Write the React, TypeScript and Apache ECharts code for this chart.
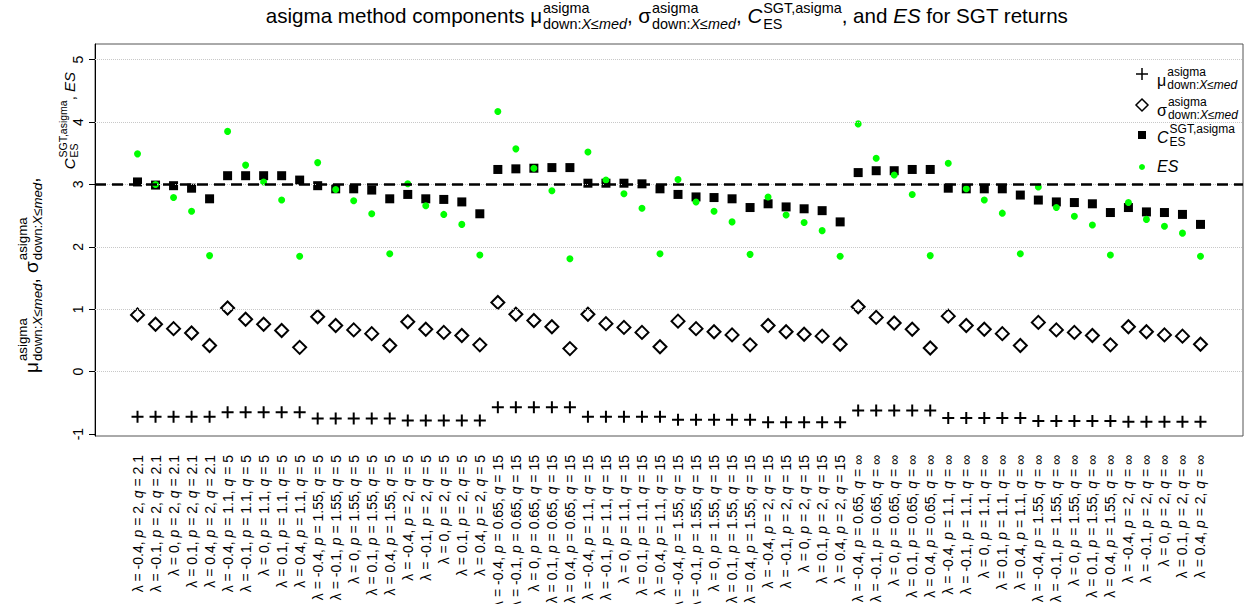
import React, { useEffect, useRef } from 'react';
import * as echarts from 'echarts';

// ---------------- data ----------------
const lambdas = ['-0.4', '-0.1', '0', '0.1', '0.4'];
const pValues = ['2', '1.1', '1.55', '2', '0.65', '1.1', '1.55', '2', '0.65', '1.1', '1.55', '2'];
const qValues = ['2.1', '5', '5', '5', '15', '15', '15', '15', '∞', '∞', '∞', '∞'];
const yTicks = [-1, 0, 1, 2, 3, 4, 5];
const gridValues = [0, 1, 2, 3, 4, 5];
const refLevel = 3;

const muDown = [
  -0.72, -0.72, -0.72, -0.72, -0.72,
  -0.65, -0.65, -0.65, -0.65, -0.65,
  -0.75, -0.75, -0.75, -0.75, -0.75,
  -0.78, -0.78, -0.78, -0.78, -0.78,
  -0.57, -0.57, -0.57, -0.57, -0.57,
  -0.72, -0.72, -0.72, -0.72, -0.72,
  -0.77, -0.77, -0.77, -0.77, -0.77,
  -0.81, -0.81, -0.81, -0.81, -0.81,
  -0.62, -0.62, -0.62, -0.62, -0.62,
  -0.74, -0.74, -0.74, -0.74, -0.74,
  -0.79, -0.79, -0.79, -0.79, -0.79,
  -0.80, -0.80, -0.80, -0.80, -0.80,
];
const sigmaDown = [
  0.91, 0.76, 0.69, 0.62, 0.42,
  1.02, 0.84, 0.76, 0.66, 0.39,
  0.88, 0.74, 0.67, 0.61, 0.42,
  0.80, 0.68, 0.63, 0.58, 0.43,
  1.11, 0.92, 0.82, 0.72, 0.37,
  0.92, 0.77, 0.71, 0.63, 0.40,
  0.81, 0.69, 0.64, 0.59, 0.43,
  0.74, 0.64, 0.60, 0.57, 0.44,
  1.04, 0.87, 0.78, 0.68, 0.38,
  0.89, 0.74, 0.68, 0.61, 0.42,
  0.79, 0.67, 0.63, 0.58, 0.43,
  0.72, 0.64, 0.59, 0.57, 0.44,
];
const cES = [
  3.04, 2.99, 2.98, 2.94, 2.77,
  3.14, 3.14, 3.14, 3.14, 3.07,
  2.98, 2.93, 2.93, 2.91, 2.77,
  2.84, 2.77, 2.76, 2.72, 2.53,
  3.24, 3.25, 3.26, 3.27, 3.27,
  3.02, 3.02, 3.02, 3.01, 2.93,
  2.84, 2.80, 2.79, 2.77, 2.63,
  2.69, 2.64, 2.61, 2.58, 2.40,
  3.19, 3.22, 3.22, 3.24, 3.24,
  2.94, 2.93, 2.93, 2.93, 2.83,
  2.75, 2.72, 2.71, 2.69, 2.55,
  2.63, 2.56, 2.55, 2.52, 2.36,
];
const esValues = [
  3.49, 3.00, 2.79, 2.57, 1.86,
  3.85, 3.31, 3.04, 2.75, 1.85,
  3.35, 2.92, 2.74, 2.53, 1.89,
  3.01, 2.66, 2.52, 2.36, 1.87,
  4.17, 3.57, 3.26, 2.90, 1.81,
  3.52, 3.07, 2.85, 2.62, 1.89,
  3.08, 2.72, 2.57, 2.40, 1.88,
  2.80, 2.51, 2.39, 2.26, 1.85,
  3.97, 3.42, 3.15, 2.84, 1.86,
  3.34, 2.93, 2.75, 2.54, 1.89,
  2.96, 2.63, 2.49, 2.35, 1.87,
  2.71, 2.44, 2.33, 2.22, 1.85,
];

// ---------------- helpers ----------------
const FONT = '"Liberation Sans", Arial, Helvetica, sans-serif';
const categories = pValues.flatMap((p, g) => lambdas.map((l) => ({ l, p, q: qValues[g] })));
const positions = categories.map((_, i) => i + 1);

type Run = [string, boolean?];
interface Atom { m?: Run[]; sup?: Run[]; sub?: Run[] }
interface Item { t: string; x: number; dy: number; size: number; it: boolean }

let measureCtx: CanvasRenderingContext2D | null = null;
function tw(t: string, size: number, it: boolean) {
  if (!measureCtx) measureCtx = document.createElement('canvas').getContext('2d');
  measureCtx!.font = `${it ? 'italic ' : ''}${size}px ${FONT}`;
  return measureCtx!.measureText(t).width;
}

function mathLine(atoms: Atom[], ms: number, ss: number, supOff: number, subOff: number, gap = 1) {
  const items: Item[] = [];
  let x = 0;
  const put = (runs: Run[], size: number, dy: number) => {
    let w = 0;
    for (const [t, it] of runs) {
      items.push({ t, x: x + w, dy, size, it: !!it });
      w += tw(t, size, !!it);
    }
    return w;
  };
  for (const a of atoms) {
    if (a.m) x += put(a.m, ms, 0);
    if (a.sup || a.sub) {
      x += gap;
      const w1 = a.sup ? put(a.sup, ss, supOff) : 0;
      const w2 = a.sub ? put(a.sub, ss, subOff) : 0;
      x += Math.max(w1, w2);
    }
  }
  return { items, width: x };
}

function toTexts(items: Item[], ox: number, baseline: number) {
  return items.map((e) => ({
    type: 'text',
    x: ox + e.x,
    y: baseline + e.dy - 0.35 * e.size,
    silent: true,
    style: {
      text: e.t,
      fontSize: e.size,
      fontFamily: FONT,
      fontStyle: e.it ? 'italic' : 'normal',
      fill: '#000',
      align: 'left',
      verticalAlign: 'middle',
    },
  }));
}

const downRuns: Run[] = [['down:'], ['X', true], ['≤'], ['med', true]];

export default function App() {
  const ref = useRef<HTMLDivElement>(null);
  useEffect(() => {
    if (!ref.current) return;
    const chart = echarts.init(ref.current, null, { renderer: 'svg' });

    // Title
    const titleAtoms: Atom[] = [
      { m: [['asigma method components μ']] },
      { sup: [['asigma']], sub: downRuns },
      { m: [[', σ']] },
      { sup: [['asigma']], sub: downRuns },
      { m: [[', '], ['C', true]] },
      { sup: [['SGT,asigma']], sub: [['ES']] },
      { m: [[', and '], ['ES', true], [' for SGT returns']] },
    ];
    const title = mathLine(titleAtoms, 20.6, 14.4, -10, 6);
    const titleEls = toTexts(title.items, 667 - title.width / 2, 23);

    // Legend
    const lx = 1157;
    const legendRows: { atoms: Atom[]; base: number }[] = [
      { atoms: [{ m: [['μ']] }, { sup: [['asigma']], sub: downRuns }], base: 86 },
      { atoms: [{ m: [['σ']] }, { sup: [['asigma']], sub: downRuns }], base: 116 },
      { atoms: [{ m: [['C', true]] }, { sup: [['SGT,asigma']], sub: [['ES']] }], base: 143 },
      { atoms: [{ m: [['ES', true]] }], base: 172 },
    ];
    const legendEls: any[] = [];
    legendRows.forEach((r) => {
      const ml = mathLine(r.atoms, 16, 12, -10, 3);
      legendEls.push(...toTexts(ml.items, lx, r.base));
    });
    const sx = 1142;
    legendEls.push(
      { type: 'line', shape: { x1: sx - 6, y1: 74, x2: sx + 6, y2: 74 }, style: { stroke: '#000', lineWidth: 1.5 } },
      { type: 'line', shape: { x1: sx, y1: 68, x2: sx, y2: 80 }, style: { stroke: '#000', lineWidth: 1.5 } },
      { type: 'polygon', shape: { points: [[sx, 99], [sx + 6, 105], [sx, 111], [sx - 6, 105]] }, style: { fill: 'none', stroke: '#000', lineWidth: 1.5 } },
      { type: 'rect', shape: { x: sx - 4, y: 131, width: 8, height: 8 }, style: { fill: '#000' } },
      { type: 'circle', shape: { cx: sx, cy: 167, r: 3 }, style: { fill: '#00ff00' } },
    );

    // Y axis title (rotated, two columns)
    const yl1 = mathLine(
      [
        { m: [['μ']] }, { sup: [['asigma']], sub: downRuns },
        { m: [[', σ']] }, { sup: [['asigma']], sub: downRuns },
        { m: [[',']] },
      ], 19, 13.3, -11, 4);
    const yl2 = mathLine(
      [
        { m: [['C', true]] }, { sup: [['SGT,asigma']], sub: [['ES']] },
        { m: [[', '], ['ES', true]] },
      ], 15, 10.5, -8, 3);
    const yTitle = {
      type: 'group',
      x: 0,
      y: 373,
      rotation: Math.PI / 2,
      children: [...toTexts(yl1.items, 0, 38), ...toTexts(yl2.items, 373 - 72 - yl2.width, 75)],
    };

    const option: any = {
      animation: false,
      grid: {
        left: 95, top: 44, width: 1148, height: 392,
        outerBoundsMode: 'none', containLabel: false,
        show: true, borderColor: '#555', borderWidth: 1,
      },
      xAxis: {
        type: 'value',
        min: -1.36,
        max: 62.36,
        axisLine: { show: false },
        axisTick: { show: false },
        splitLine: { show: false },
        axisLabel: {
          customValues: positions,
          rotate: 90,
          margin: 19,
          fontSize: 14,
          fontFamily: FONT,
          color: '#000',
          formatter: (v: number) => {
            const c = categories[Math.round(v) - 1];
            if (!c) return '';
            return `λ = ${c.l}, {i|p} = ${c.p}, {i|q} = ${c.q}`;
          },
          rich: { i: { fontStyle: 'italic', fontSize: 14, fontFamily: FONT, color: '#000' } },
        },
      },
      yAxis: {
        type: 'value',
        min: -1.03,
        max: 5.25,
        axisLine: { show: true, onZero: false, lineStyle: { color: '#000', width: 1 } },
        axisTick: { show: true, customValues: yTicks, length: 6, lineStyle: { color: '#000' } },
        axisLabel: { customValues: yTicks, rotate: 90, margin: 10, fontSize: 14, fontFamily: FONT, color: '#000' },
        splitLine: { show: false },
      },
      graphic: [...titleEls, ...legendEls, yTitle],
      series: [
        {
          type: 'scatter',
          data: [],
          z: 1,
          silent: true,
          markLine: {
            silent: true,
            symbol: ['none', 'none'],
            label: { show: false },
            lineStyle: { type: 'dotted', color: '#c8c8c8', width: 1 },
            data: gridValues.map((v) => ({ yAxis: v })),
          },
        },
        {
          type: 'scatter',
          data: [],
          z: 1,
          silent: true,
          markLine: {
            silent: true,
            symbol: ['none', 'none'],
            label: { show: false },
            lineStyle: { type: [11, 6], color: '#000', width: 2.5 },
            data: [{ yAxis: refLevel }],
          },
        },
        {
          name: 'mu',
          type: 'scatter',
          z: 2,
          symbol: 'path://M0,6H12M6,0V12',
          symbolSize: 12,
          itemStyle: { color: 'rgba(0,0,0,0)', borderColor: '#000', borderWidth: 2, opacity: 1 },
          data: muDown.map((v, i) => [positions[i], v]),
        },
        {
          name: 'sigma',
          type: 'scatter',
          z: 2,
          symbol: 'diamond',
          symbolSize: 13,
          itemStyle: { color: 'rgba(255,255,255,0)', borderColor: '#000', borderWidth: 2, opacity: 1 },
          data: sigmaDown.map((v, i) => [positions[i], v]),
        },
        {
          name: 'C',
          type: 'scatter',
          z: 2,
          symbol: 'rect',
          symbolSize: 9,
          itemStyle: { color: '#000', opacity: 1 },
          data: cES.map((v, i) => [positions[i], v]),
        },
        {
          name: 'ES',
          type: 'scatter',
          z: 3,
          symbol: 'circle',
          symbolSize: 7,
          itemStyle: { color: '#00ff00', opacity: 1 },
          data: esValues.map((v, i) => [positions[i], v]),
        },
      ],
    };
    chart.setOption(option);
    return () => chart.dispose();
  }, []);
  return (
    <div
      ref={ref}
      style={{ position: 'absolute', left: 0, top: 0, width: 1255, height: 604, background: '#fff' }}
    />
  );
}
